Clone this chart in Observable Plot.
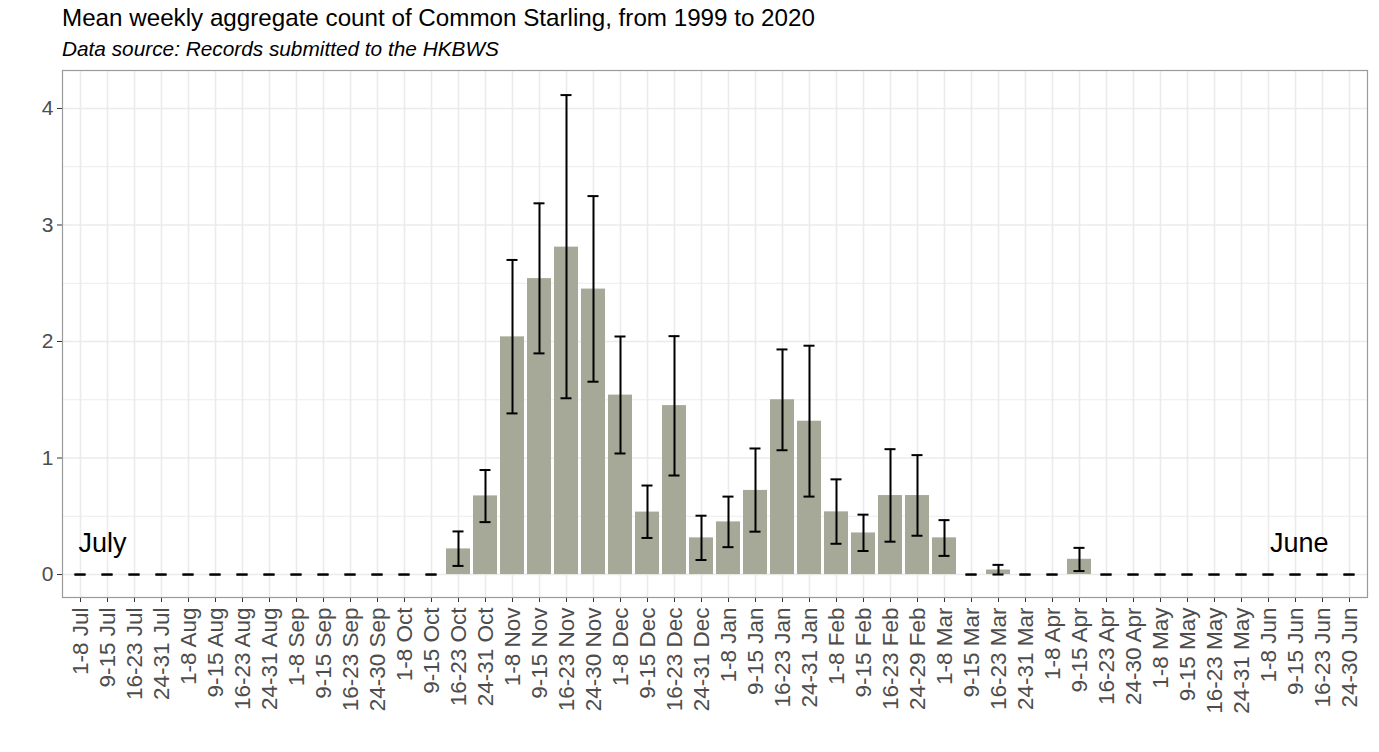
<!DOCTYPE html>
<html>
<head>
<meta charset="utf-8">
<script src="https://cdn.jsdelivr.net/npm/d3@7"></script>
<script src="https://cdn.jsdelivr.net/npm/@observablehq/plot@0.6"></script>
<style>
  body { margin: 0; background: #fff; font-family: "Liberation Sans", Arial, sans-serif; }
  #title { position: absolute; left: 62px; top: 4px; font-size: 24.2px; line-height: 28px; color: #000; white-space: nowrap; }
  #subtitle { position: absolute; left: 62px; top: 37px; font-size: 20.8px; line-height: 24px; font-style: italic; color: #000; white-space: nowrap; }
  #chart { position: absolute; left: 0; top: 60px; }
</style>
</head>
<body>
<div id="title">Mean weekly aggregate count of Common Starling, from 1999 to 2020</div>
<div id="subtitle">Data source: Records submitted to the HKBWS</div>
<div id="chart"></div>
<script>
const weeks = [
  "1-8 Jul","9-15 Jul","16-23 Jul","24-31 Jul",
  "1-8 Aug","9-15 Aug","16-23 Aug","24-31 Aug",
  "1-8 Sep","9-15 Sep","16-23 Sep","24-30 Sep",
  "1-8 Oct","9-15 Oct","16-23 Oct","24-31 Oct",
  "1-8 Nov","9-15 Nov","16-23 Nov","24-30 Nov",
  "1-8 Dec","9-15 Dec","16-23 Dec","24-31 Dec",
  "1-8 Jan","9-15 Jan","16-23 Jan","24-31 Jan",
  "1-8 Feb","9-15 Feb","16-23 Feb","24-29 Feb",
  "1-8 Mar","9-15 Mar","16-23 Mar","24-31 Mar",
  "1-8 Apr","9-15 Apr","16-23 Apr","24-30 Apr",
  "1-8 May","9-15 May","16-23 May","24-31 May",
  "1-8 Jun","9-15 Jun","16-23 Jun","24-30 Jun"
];
const meanCount = [
  0,0,0,0, 0,0,0,0, 0,0,0,0,
  0,0,0.22,0.675,
  2.04,2.54,2.81,2.45,
  1.54,0.536,1.45,0.315,
  0.452,0.722,1.50,1.316,
  0.538,0.357,0.678,0.678,
  0.315,0,0.039,0,
  0,0.131,0,0,
  0,0,0,0,
  0,0,0,0
];
const lowerCI = [
  0,0,0,0, 0,0,0,0, 0,0,0,0,
  0,0,0.074,0.45,
  1.383,1.898,1.513,1.655,
  1.039,0.314,0.85,0.125,
  0.235,0.368,1.067,0.669,
  0.264,0.202,0.282,0.333,
  0.160,0,0.0,0,
  0,0.03,0,0,
  0,0,0,0,
  0,0,0,0
];
const upperCI = [
  0,0,0,0, 0,0,0,0, 0,0,0,0,
  0,0,0.37,0.897,
  2.70,3.186,4.115,3.248,
  2.043,0.764,2.046,0.505,
  0.669,1.082,1.932,1.964,
  0.817,0.514,1.076,1.025,
  0.467,0,0.083,0,
  0,0.229,0,0,
  0,0,0,0,
  0,0,0,0
];
const yTicks = [0, 1, 2, 3, 4];
const yMinor = [0.5, 1.5, 2.5, 3.5];
const monthLabels = [
  {week: "1-8 Jul", text: "July", anchor: "start"},
  {week: "24-30 Jun", text: "June", anchor: "end"}
];

const data = weeks.map((w, i) => ({week: w, mean: meanCount[i], lo: lowerCI[i], hi: upperCI[i]}));

const W = 1379, H = 692;
const mL = 62, mR = 12, mT = 10, mB = 155;
const step = (W - mL - mR) / 48.2;
const tickInset = step * (0.9 - 0.42) / 2;
const labelY = (574 - 551) / ((574 - 108) / 4);

const plot = Plot.plot({
  width: W,
  height: H,
  marginLeft: mL,
  marginRight: mR,
  marginTop: mT,
  marginBottom: mB,
  style: {fontFamily: "'Liberation Sans', Arial, sans-serif", background: "#fff"},
  x: {domain: weeks, paddingInner: 0.1, paddingOuter: 0.15, label: null},
  y: {domain: [-0.197, 4.326], label: null},
  marks: [
    Plot.gridY(yMinor, {stroke: "#ececec", strokeOpacity: 1, strokeWidth: 1}),
    Plot.gridY(yTicks, {stroke: "#ebebeb", strokeOpacity: 1, strokeWidth: 1.6}),
    Plot.gridX(weeks, {stroke: "#ebebeb", strokeOpacity: 1, strokeWidth: 1.6}),
    Plot.barY(data, {x: "week", y1: 0, y2: "mean", fill: "#a6a898"}),
    Plot.ruleX(data, {x: "week", y1: "lo", y2: "hi", stroke: "#000", strokeWidth: 2}),
    Plot.tickY(data, {x: "week", y: "lo", stroke: "#000", strokeWidth: 2, insetLeft: tickInset, insetRight: tickInset}),
    Plot.tickY(data, {x: "week", y: "hi", stroke: "#000", strokeWidth: 2, insetLeft: tickInset, insetRight: tickInset}),
    Plot.text(monthLabels.filter(d => d.anchor === "start"), {x: "week", y: labelY, text: "text", textAnchor: "start", lineAnchor: "bottom", fontSize: 27, fill: "#000", dx: -2}),
    Plot.text(monthLabels.filter(d => d.anchor === "end"), {x: "week", y: labelY, text: "text", textAnchor: "end", lineAnchor: "bottom", fontSize: 27, fill: "#000", dx: -21}),
    Plot.axisY(yTicks, {tickSize: 5, tickPadding: 4, fontSize: 21, color: "#4d4d4d", stroke: "#333", tickFormat: d => String(d), label: null}),
    Plot.axisX(weeks, {tickSize: 5, tickPadding: 5, tickRotate: -90, fontSize: 22.5, color: "#4d4d4d", stroke: "#333", label: null}),
    Plot.frame({stroke: "#9a9a9a", strokeWidth: 1.2})
  ]
});
document.getElementById("chart").appendChild(plot);
</script>
</body>
</html>
